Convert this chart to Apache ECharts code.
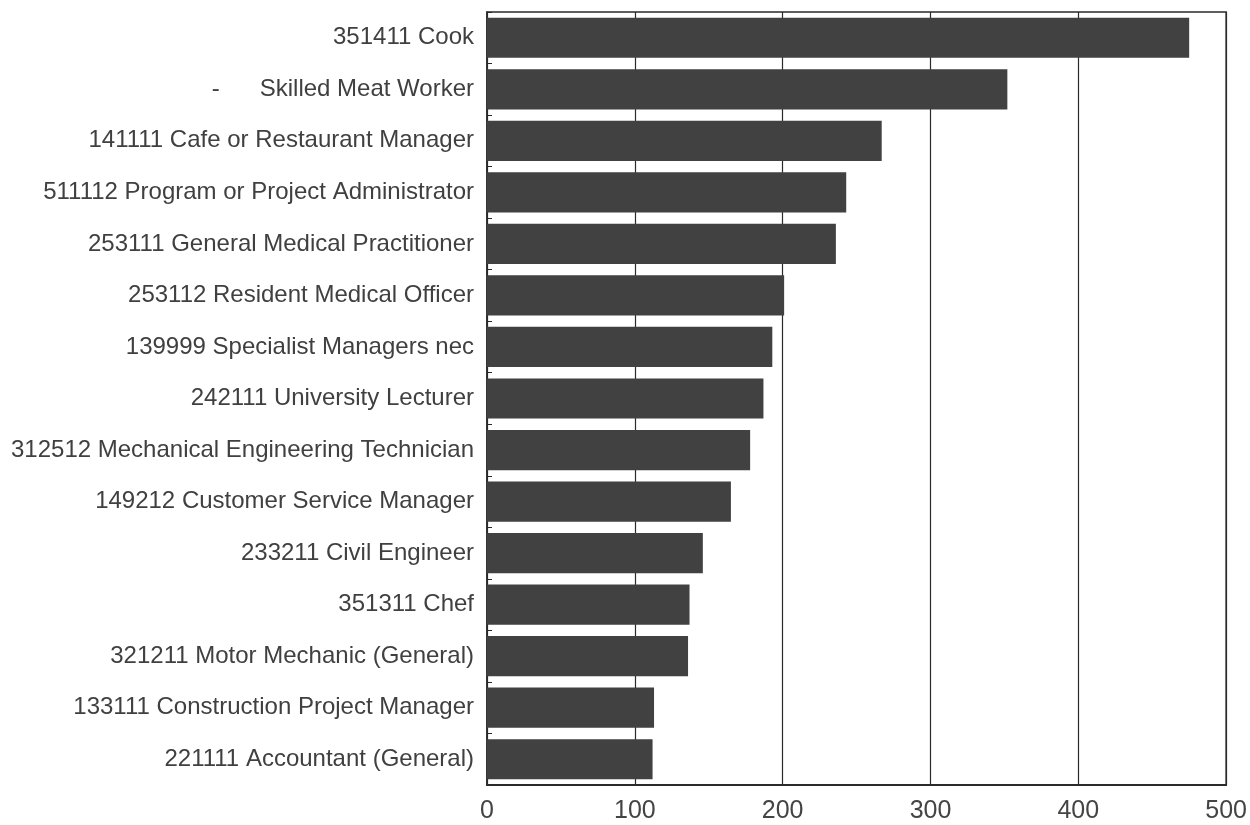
<!DOCTYPE html>
<html>
<head>
<meta charset="utf-8">
<script src="https://cdn.jsdelivr.net/npm/echarts@6/dist/echarts.min.js"></script>
<style>
html,body{margin:0;padding:0;background:#fff;}
#chart{width:1250px;height:825px;}
</style>
</head>
<body>
<div id="chart"></div>
<script>
const categories = [
  "351411 Cook",
  "-      Skilled Meat Worker",
  "141111 Cafe or Restaurant Manager",
  "511112 Program or Project Administrator",
  "253111 General Medical Practitioner",
  "253112 Resident Medical Officer",
  "139999 Specialist Managers nec",
  "242111 University Lecturer",
  "312512 Mechanical Engineering Technician",
  "149212 Customer Service Manager",
  "233211 Civil Engineer",
  "351311 Chef",
  "321211 Motor Mechanic (General)",
  "133111 Construction Project Manager",
  "221111 Accountant (General)"
];
const values = [475, 352, 267, 243, 236, 201, 193, 187, 178, 165, 146, 137, 136, 113, 112];
const xTicks = [0, 100, 200, 300, 400, 500];

const chart = echarts.init(document.getElementById('chart'), null, {renderer: 'canvas'});
chart.setOption({
  animation: false,
  backgroundColor: '#ffffff',
  grid: {
    left: 487, right: 20, top: 12, bottom: 40,
    show: true, borderColor: '#2a2a2a', borderWidth: 1.5, backgroundColor: 'transparent'
  },
  xAxis: {
    type: 'value',
    min: xTicks[0],
    max: xTicks[xTicks.length - 1],
    interval: 100,
    axisLine: {show: true, lineStyle: {color: '#2a2a2a', width: 2}},
    axisTick: {show: false},
    splitLine: {show: true, lineStyle: {color: '#2a2a2a', width: 1.2}},
    axisLabel: {
      color: '#444444', fontSize: 25, fontFamily: 'Liberation Sans, Arial, sans-serif',
      margin: 14
    }
  },
  yAxis: {
    type: 'category',
    inverse: true,
    data: categories,
    axisLine: {show: true, lineStyle: {color: '#2a2a2a', width: 1.5}},
    axisTick: {show: true, inside: true, length: 5, lineStyle: {color: '#2a2a2a'}},
    splitLine: {show: false},
    axisLabel: {
      color: '#404040', fontSize: 24, fontFamily: 'Liberation Sans, Arial, sans-serif',
      margin: 13
    }
  },
  series: [{
    type: 'bar',
    data: values,
    barCategoryGap: '22%',
    itemStyle: {color: '#414141'},
    silent: true
  }]
});
</script>
</body>
</html>
